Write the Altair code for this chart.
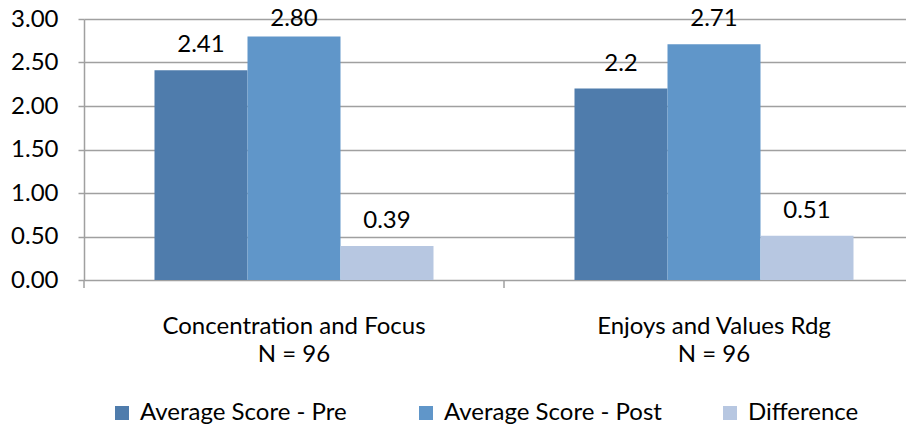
import altair as alt
import pandas as pd

categories = ["Concentration and Focus|N = 96", "Enjoys and Values Rdg|N = 96"]
series = ["Average Score - Pre", "Average Score - Post", "Difference"]
pre_labels = ["2.41", "2.2"]
post_labels = ["2.80", "2.71"]
diff_labels = ["0.39", "0.51"]
colors = ["#4F7CAC", "#6096C9", "#B7C7E1"]
y_ticks = [0, 0.5, 1.0, 1.5, 2.0, 2.5, 3.0]

rows = []
for i, c in enumerate(categories):
    for s, labs in zip(series, [pre_labels, post_labels, diff_labels]):
        rows.append({"cat": c, "series": s, "label": labs[i], "value": float(labs[i])})
df = pd.DataFrame(rows)
cat_df = pd.DataFrame({"cat": categories})

FONT = "Lato"
FS = 24
W, H = 822, 261
BAND = 420
YMAX = 3.0
PX = H / YMAX  # pixels per unit

xscale = alt.Scale(domain=categories, range=[0, 2 * BAND], paddingInner=0, paddingOuter=0)
offscale = alt.Scale(domain=series, paddingInner=0, paddingOuter=0.758)
yscale = alt.Scale(domain=[0, YMAX], nice=False)

base = alt.Chart(df)

bars = base.mark_bar(strokeWidth=0).encode(
    x=alt.X("cat:N", scale=xscale, sort=categories,
            axis=alt.Axis(title=None, labelExpr="split(datum.label, '|')", labelAngle=0,
                          ticks=False, domain=False, labelFont=FONT, labelFontSize=FS,
                          labelColor="#000000", labelPadding=34, labelLineHeight=28,
                          labelBaseline="top", labelLimit=0)),
    xOffset=alt.XOffset("series:N", scale=offscale, sort=series),
    y=alt.Y("value:Q", scale=yscale,
            axis=alt.Axis(title=None, values=y_ticks, format=".2f", grid=True,
                          gridColor="#A0A0A0", gridWidth=1.5, domainColor="#A0A0A0",
                          domainWidth=1.5, tickColor="#A0A0A0", tickWidth=1.5, tickSize=6,
                          labelFont=FONT, labelFontSize=FS, labelColor="#000000",
                          labelPadding=20)),
    color=alt.Color("series:N", scale=alt.Scale(domain=series, range=colors), sort=series,
                    legend=alt.Legend(title=None, orient="none", legendX=26, legendY=382,
                                      direction="horizontal", symbolType="square",
                                      symbolSize=196, symbolStrokeWidth=0,
                                      labelFont=FONT, labelFontSize=FS, labelColor="#000000",
                                      columnPadding=56, gridAlign="all", labelOffset=6,
                                      padding=0, labelLimit=0)),
)

# label baseline 18px above bar top, kept inside the visible area at the top
texts = base.transform_calculate(
    ly=f"min(datum.value + 18 / {PX}, {YMAX} - 7 / {PX})"
).mark_text(baseline="alphabetic", font=FONT, fontSize=FS, color="#000000").encode(
    x=alt.X("cat:N", scale=xscale, sort=categories),
    xOffset=alt.XOffset("series:N", scale=offscale, sort=series),
    y=alt.Y("ly:Q", scale=yscale),
    text="label:N",
)

ticks = alt.Chart(cat_df).mark_rule(color="#A0A0A0", strokeWidth=1.5).encode(
    x=alt.X("cat:N", scale=xscale, sort=categories, bandPosition=0),
    y=alt.value(H),
    y2=alt.value(H + 8),
)

chart = alt.layer(bars, texts, ticks).properties(
    width=W, height=H,
    autosize=alt.AutoSizeParams(type="none"),
    padding={"left": 76, "top": 11, "right": 0, "bottom": 146},
).configure_view(stroke=None)

chart.save("out.html", embed_options={"renderer": "svg", "actions": False})
